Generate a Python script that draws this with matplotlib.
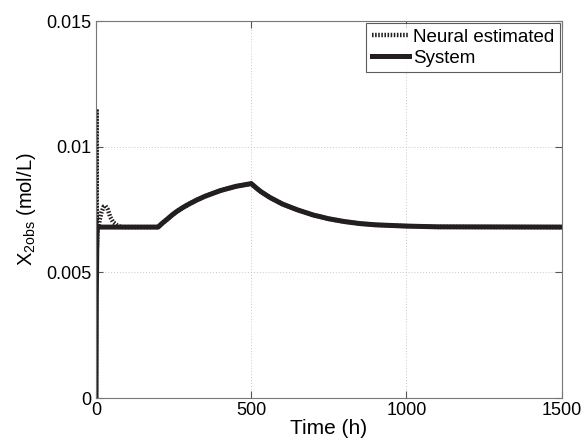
import numpy as np
import matplotlib.pyplot as plt

plt.rcParams['font.family'] = ['Liberation Sans', 'DejaVu Sans']

# System response
t_sys = [0, 1, 3, 5, 200, 215, 230, 245, 260, 280, 300, 325, 350, 400, 450, 500,
         515, 530, 560, 600, 650, 700, 750, 800, 850, 900, 1000, 1100, 1500]
x_sys = [0, 0.0040, 0.0065, 0.0068, 0.0068, 0.00697, 0.00712, 0.00728, 0.00742,
         0.00758, 0.00772, 0.00788, 0.00802, 0.00825, 0.00842, 0.00853,
         0.00837, 0.00822, 0.00798, 0.00772, 0.00748, 0.00728, 0.00713, 0.00702,
         0.00694, 0.00689, 0.00684, 0.00681, 0.0068]

# Neural observer estimate
t_nn = [0, 1.5, 3, 5, 8, 12, 18, 25, 30, 38, 46, 55, 65, 80,
        200, 215, 230, 245, 260, 280, 300, 325, 350, 400, 450, 500,
        515, 530, 560, 600, 650, 700, 750, 800, 850, 900, 1000, 1100, 1500]
x_nn = [0, 0.0115, 0.0060, 0.0069, 0.0068, 0.0071, 0.0074, 0.00762, 0.00765,
        0.0075, 0.0072, 0.0070, 0.0069, 0.0068,
        0.0068, 0.00697, 0.00712, 0.00728, 0.00742, 0.00758, 0.00772, 0.00788,
        0.00802, 0.00825, 0.00842, 0.00853,
        0.00837, 0.00822, 0.00798, 0.00772, 0.00748, 0.00728, 0.00713, 0.00702,
        0.00694, 0.00689, 0.00684, 0.00681, 0.0068]

xticks = [0, 500, 1000, 1500]
yticks = [0, 0.005, 0.01, 0.015]
ytick_labels = ['0', '0.005', '0.01', '0.015']

fig = plt.figure(figsize=(5.87, 4.44), dpi=100)
ax = fig.add_axes([0.1635, 0.1036, 0.7935, 0.8491])

ink = '#231f20'
ax.plot(t_nn, x_nn, color=ink, lw=3.2, ls=(0, (0.35, 0.35)), label='Neural estimated')
ax.plot(t_sys, x_sys, color=ink, lw=3.6, label='System', solid_joinstyle='round')

ax.set_xlim(0, 1500)
ax.set_ylim(0, 0.015)
ax.set_xticks(xticks)
ax.set_yticks(yticks)
ax.set_yticklabels(ytick_labels)
ax.tick_params(direction='in', top=True, right=True, labelsize=13, length=5,
               color='#555555', pad=3)
for s in ax.spines.values():
    s.set_color('#777777')
    s.set_linewidth(0.8)
ax.grid(True, ls=(0, (1, 2)), color='#c8c8c8', lw=0.7)

ax.set_xlabel('Time (h)', fontsize=15, labelpad=0)
ax.set_ylabel(r'X$_{\mathregular{2obs}}$ (mol/L)', fontsize=14.5, labelpad=6)

leg = ax.legend(loc='upper right', fontsize=13.5, frameon=True, fancybox=False,
                borderaxespad=0.1, handlelength=2.0, handletextpad=0.2,
                borderpad=0.3, labelspacing=0.2)
leg.get_frame().set_edgecolor('#333333')
leg.get_frame().set_linewidth(0.8)

fig.savefig('out.png', dpi=100)
